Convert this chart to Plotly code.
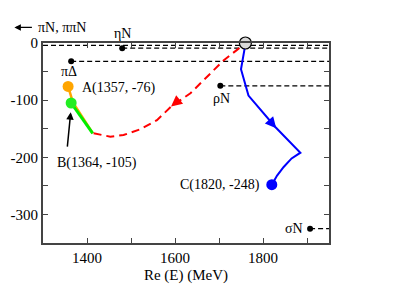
import plotly.graph_objects as go

# ---- data ----
red_x = [1415, 1453, 1483, 1521, 1559, 1593, 1635, 1673, 1711, 1741, 1756]
red_y = [-158, -164, -161, -151, -135, -110, -88, -59, -30, -12, -3]
blue_x = [1760, 1750, 1767, 1828, 1885, 1865, 1847, 1832, 1820]
blue_y = [-2, -46, -92, -147, -192, -202, -217, -232, -248]
green_x = [1364, 1413]
green_y = [-105, -158]
orange_x = [1357, 1368, 1413]
orange_y = [-76, -104, -158]
pole_A = (1357, -76)
pole_B = (1364, -105)
pole_C = (1820, -248)
start_pt = (1760, 0)
thr_names = ["πN, ππN", "ηN", "πΔ", "ρN", "σN"]
thr_x = [1300, 1480, 1364, 1703, 1907]
thr_y = [-4, -9, -32, -75, -325]
x_ticks = [1400, 1600, 1800]
y_ticks = [0, -100, -200, -300]
y_ticktext = ["0", "-100", "-200", "-300"]

FONT = "'Liberation Serif', 'Times New Roman', Times, serif"
XMAX = 1950

fig = go.Figure()

# threshold dashed lines
for nm, tx, ty in zip(thr_names, thr_x, thr_y):
    fig.add_trace(go.Scatter(x=[tx, XMAX], y=[ty, ty], mode="lines",
                             line=dict(color="black", width=1.2, dash="5px,3px"),
                             showlegend=False, hoverinfo="skip", cliponaxis=False))
# threshold dots (not for pi N)
fig.add_trace(go.Scatter(x=thr_x[1:], y=thr_y[1:], mode="markers",
                         marker=dict(color="black", size=6),
                         showlegend=False, hoverinfo="skip"))

# orange, green, red, blue
fig.add_trace(go.Scatter(x=orange_x, y=orange_y, mode="lines",
                         line=dict(color="#ffa500", width=2.5), showlegend=False))
fig.add_trace(go.Scatter(x=green_x, y=green_y, mode="lines",
                         line=dict(color="#00ee00", width=3), showlegend=False))
fig.add_trace(go.Scatter(x=red_x, y=red_y, mode="lines",
                         line=dict(color="red", width=2, dash="8px,5px"), showlegend=False))
fig.add_trace(go.Scatter(x=blue_x, y=blue_y, mode="lines",
                         line=dict(color="blue", width=2), showlegend=False))

# poles
fig.add_trace(go.Scatter(x=[pole_A[0]], y=[pole_A[1]], mode="markers",
                         marker=dict(color="#ffa500", size=11), showlegend=False))
fig.add_trace(go.Scatter(x=[pole_B[0]], y=[pole_B[1]], mode="markers",
                         marker=dict(color="#22ee22", size=11), showlegend=False))
fig.add_trace(go.Scatter(x=[pole_C[0]], y=[pole_C[1]], mode="markers",
                         marker=dict(color="blue", size=11), showlegend=False))
fig.add_trace(go.Scatter(x=[start_pt[0]], y=[start_pt[1]], mode="markers",
                         marker=dict(color="#d8d8d8", size=12, line=dict(color="black", width=1.2)),
                         showlegend=False, cliponaxis=False))

tf = dict(family=FONT, size=14, color="black")
ann = []
# channel labels
ann.append(dict(x=thr_x[1], xref="x", y=1.049, yref="paper", yanchor="middle", xanchor="center",
                text=thr_names[1], showarrow=False, font=tf))
ann.append(dict(x=thr_x[2] - 4, y=-50, text=thr_names[2], showarrow=False, font=tf))
ann.append(dict(x=thr_x[3] + 2, y=-97, text=thr_names[3], showarrow=False, font=tf))
ann.append(dict(x=1896, y=thr_y[4], text=thr_names[4], showarrow=False, font=tf, xanchor="right"))
# pole labels
ann.append(dict(x=1385, y=-79, text=f"A({pole_A[0]}, {pole_A[1]})", showarrow=False, font=tf, xanchor="left"))
ann.append(dict(x=1328, y=-210, text=f"B({pole_B[0]}, {pole_B[1]})", showarrow=False, font=tf, xanchor="left"))
ann.append(dict(x=1797, y=-249, text=f"C({pole_C[0]}, {pole_C[1]})", showarrow=False, font=tf, xanchor="right"))
# pi N label with left arrow
ann.append(dict(xref="paper", yref="paper", x=-0.023, y=1.078, text=thr_names[0],
                showarrow=False, font=tf, xanchor="left", yanchor="middle"))
ann.append(dict(xref="paper", yref="paper", x=-0.1, y=1.078, text="", showarrow=True,
                ax=19, ay=0, arrowhead=2, arrowsize=1, arrowwidth=1.3, arrowcolor="black", standoff=0))
# direction arrows
ann.append(dict(x=1591, y=-111, ax=1612, ay=-98, axref="x", ayref="y", text="", showarrow=True,
                arrowhead=2, arrowsize=1.1, arrowwidth=2, arrowcolor="red", standoff=0))
ann.append(dict(x=1830, y=-149, ax=1812, ay=-133, axref="x", ayref="y", text="", showarrow=True,
                arrowhead=2, arrowsize=1.1, arrowwidth=2, arrowcolor="blue", standoff=0))
ann.append(dict(x=1363, y=-121, ax=1355, ay=-184, axref="x", ayref="y", text="", showarrow=True,
                arrowhead=2, arrowsize=1, arrowwidth=1.5, arrowcolor="black", standoff=0))

axcommon = dict(showline=True, linecolor="#444", linewidth=2, mirror="ticks",
                ticks="inside", ticklen=5, tickcolor="#444", tickwidth=1.2,
                showgrid=False, zeroline=False, automargin=False,
                tickfont=dict(family=FONT, size=15, color="black"))

fig.update_layout(
    width=416, height=286,
    margin=dict(l=43, r=87, t=43, b=43),
    plot_bgcolor="white", paper_bgcolor="white",
    font=dict(family=FONT),
    annotations=ann,
    xaxis=dict(range=[1300, XMAX], tickvals=x_ticks,
               minor=dict(ticks="inside", dtick=100, ticklen=5, tickcolor="#444"),
               title=dict(text="Re (E) (MeV)", font=dict(family=FONT, size=15, color="black"), standoff=4),
               **axcommon),
    yaxis=dict(range=[-350, 0], tickvals=y_ticks, ticktext=y_ticktext,
               minor=dict(ticks="inside", dtick=50, ticklen=5, tickcolor="#444"),
               **axcommon),
)

fig.write_html("out.html", config={"displayModeBar": False},
               post_script="document.body.style.margin='0';document.body.style.overflow='hidden';")
